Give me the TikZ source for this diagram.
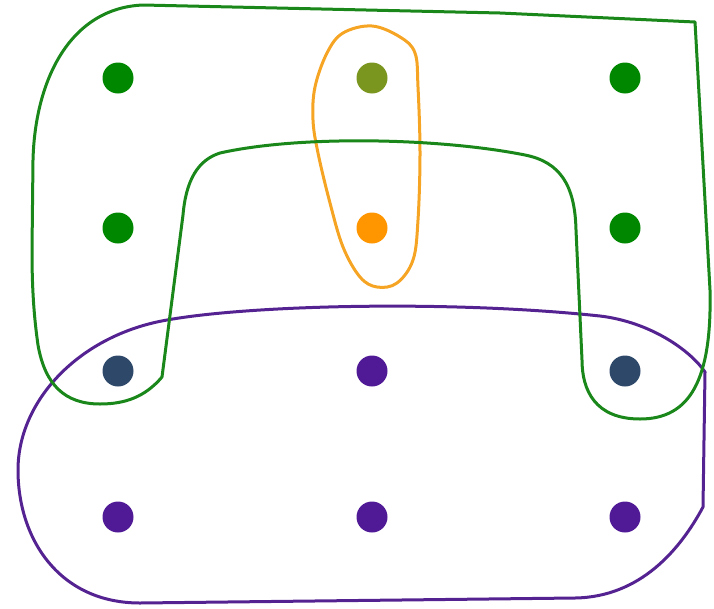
\documentclass[tikz,border=0pt]{standalone}
\definecolor{gline}{RGB}{25,135,25}
\definecolor{gdot}{RGB}{0,135,0}
\definecolor{olivedot}{RGB}{122,150,30}
\definecolor{odot}{RGB}{255,150,0}
\definecolor{oline}{RGB}{245,165,35}
\definecolor{slatedot}{RGB}{45,72,105}
\definecolor{pdot}{RGB}{80,25,150}
\definecolor{pline}{RGB}{85,35,145}
\begin{document}
\begin{tikzpicture}[x=1pt,y=-1pt,
  dot/.style={circle,draw=none,minimum size=31pt,inner sep=0pt},
  hull/.style={line width=3pt,line join=round}]
\useasboundingbox (0,0) rectangle (714,608);
% purple hull
\draw[hull,pline] (167,320) .. controls (250,305) and (450,300) .. (600,316)
  .. controls (650,322) and (690,350) .. (705,372) -- (703,507)
  .. controls (680,550) and (640,597) .. (575,598) -- (140,603)
  .. controls (60,603) and (18,540) .. (18,470)
  .. controls (18,400) and (80,335) .. (167,320) -- cycle;
% orange hull
\draw[hull,oline] plot[smooth cycle,tension=0.6] coordinates {
  (372,26) (343,33) (327,53) (315,87) (313,120) (318,153) (330,203) (343,247)
  (360,277) (377,287) (397,283) (413,260) (418,220) (420,153) (418,87) (415,53) (400,37)};
% green hull
\draw[hull,gline] (143,5) -- (500,13) -- (695,22) -- (710,290)
  .. controls (712,380) and (690,419) .. (640,419)
  .. controls (595,419) and (582,390) .. (582,360) -- (576,230)
  .. controls (575,185) and (560,162) .. (525,155)
  .. controls (440,138) and (300,135) .. (220,153)
  .. controls (198,160) and (186,180) .. (183,215) -- (162,377)
  .. controls (145,397) and (125,404) .. (100,404)
  .. controls (65,404) and (45,385) .. (38,345)
  .. controls (33,310) and (32,280) .. (32,250) -- (33,160)
  .. controls (35,80) and (70,8) .. (143,5) -- cycle;
% dots
\node[dot,fill=gdot] (a1) at (118,78) {};
\node[dot,fill=olivedot] (a2) at (372,78) {};
\node[dot,fill=gdot] (a3) at (625,78) {};
\node[dot,fill=gdot] (b1) at (118,228) {};
\node[dot,fill=odot] (b2) at (372,228) {};
\node[dot,fill=gdot] (b3) at (625,228) {};
\node[dot,fill=slatedot] (c1) at (118,371) {};
\node[dot,fill=pdot] (c2) at (372,371) {};
\node[dot,fill=slatedot] (c3) at (625,371) {};
\node[dot,fill=pdot] (d1) at (118,517) {};
\node[dot,fill=pdot] (d2) at (372,517) {};
\node[dot,fill=pdot] (d3) at (625,517) {};
\end{tikzpicture}
\end{document}
